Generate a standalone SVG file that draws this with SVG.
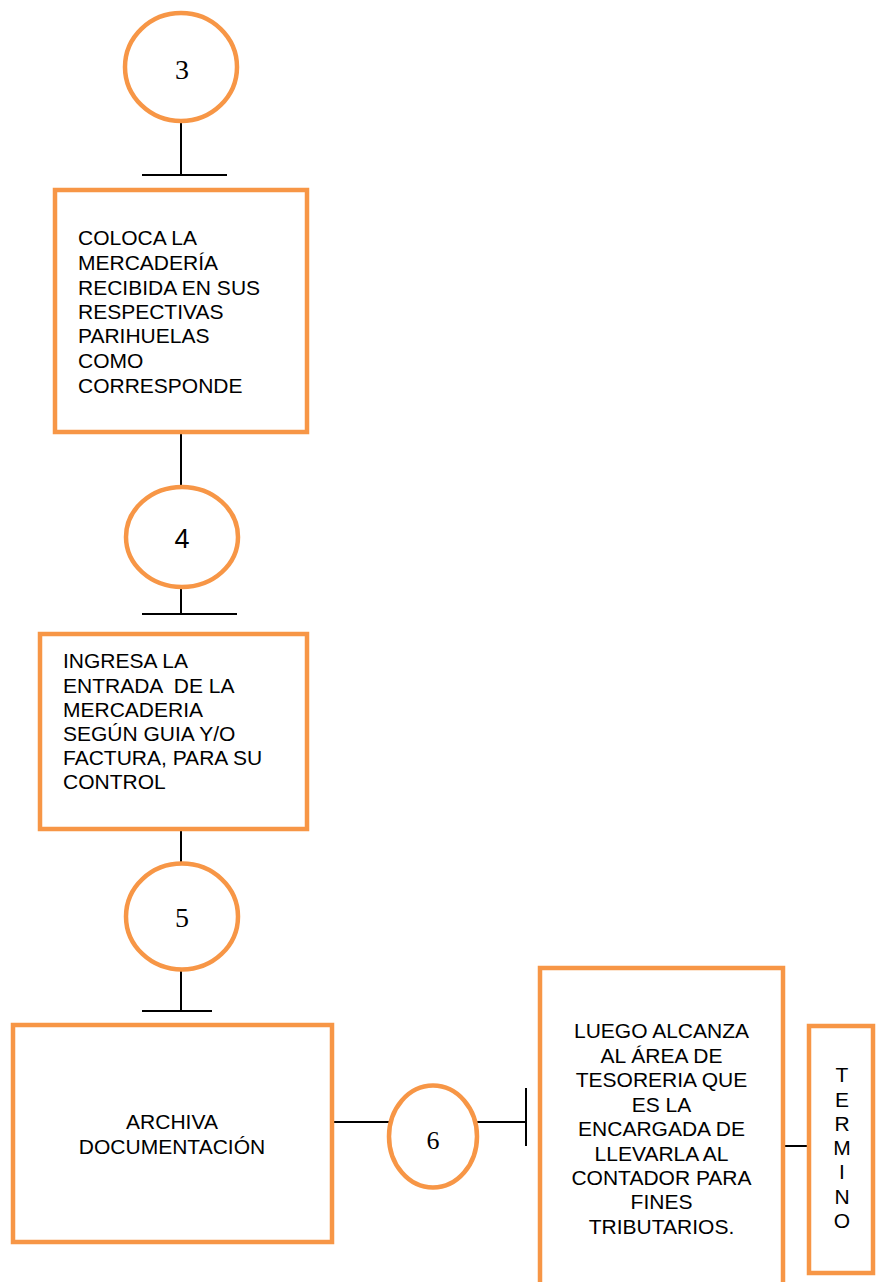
<svg xmlns="http://www.w3.org/2000/svg" width="876" height="1282" viewBox="0 0 876 1282">
<style>
.box{fill:#fff;stroke:#F79646;stroke-width:4.5}
.circ{fill:#fff;stroke:#F79646;stroke-width:4.5}
.ln{stroke:#000;stroke-width:2;fill:none}
.t{font-family:"Liberation Sans",Arial,sans-serif;font-size:21px;fill:#000}
.c{text-anchor:middle}
.num{font-family:"Liberation Serif","Times New Roman",serif;font-size:28px;fill:#000;text-anchor:middle}
</style>
<rect width="876" height="1282" fill="#fff"/>
<g id="connectors">
<line class="ln" x1="181" y1="122" x2="181" y2="175"/>
<line class="ln" x1="142" y1="175" x2="227" y2="175"/>
<line class="ln" x1="181" y1="432" x2="181" y2="487"/>
<line class="ln" x1="181" y1="587" x2="181" y2="614"/>
<line class="ln" x1="142" y1="614" x2="237" y2="614"/>
<line class="ln" x1="181" y1="829" x2="181" y2="863"/>
<line class="ln" x1="181" y1="970" x2="181" y2="1011"/>
<line class="ln" x1="142" y1="1011" x2="212" y2="1011"/>
<line class="ln" x1="332" y1="1122" x2="389" y2="1122"/>
<line class="ln" x1="477" y1="1122" x2="526" y2="1122"/>
<line class="ln" x1="526" y1="1088" x2="526" y2="1146"/>
<line class="ln" x1="783" y1="1146" x2="809" y2="1146"/>
</g>
<g id="n3">
<ellipse class="circ" cx="181" cy="67" rx="56" ry="54"/>
<text class="num" x="182" y="79">3</text>
</g>
<g id="box1">
<rect class="box" x="55" y="190" width="252" height="242"/>
<text class="t" x="78" y="245">COLOCA LA</text>
<text class="t" x="78" y="270">MERCADERÍA</text>
<text class="t" x="78" y="295">RECIBIDA EN SUS</text>
<text class="t" x="78" y="319">RESPECTIVAS</text>
<text class="t" x="78" y="343">PARIHUELAS</text>
<text class="t" x="78" y="368">COMO</text>
<text class="t" x="78" y="393">CORRESPONDE</text>
</g>
<g id="n4">
<ellipse class="circ" cx="182" cy="537" rx="56" ry="50"/>
<text class="t c" style="font-size:27px" x="182" y="548">4</text>
</g>
<g id="box2">
<rect class="box" x="40" y="634" width="267" height="195"/>
<text class="t" x="63" y="668">INGRESA LA</text>
<text class="t" x="63" y="693" xml:space="preserve">ENTRADA  DE LA</text>
<text class="t" x="63" y="717">MERCADERIA</text>
<text class="t" x="63" y="741">SEGÚN GUIA Y/O</text>
<text class="t" x="63" y="765">FACTURA, PARA SU</text>
<text class="t" x="63" y="789">CONTROL</text>
</g>
<g id="n5">
<ellipse class="circ" cx="182" cy="916.5" rx="56" ry="53"/>
<text class="num" x="182" y="927">5</text>
</g>
<g id="box3">
<rect class="box" x="13" y="1025" width="319" height="217"/>
<text class="t c" x="172" y="1129">ARCHIVA</text>
<text class="t c" x="172" y="1154">DOCUMENTACIÓN</text>
</g>
<g id="n6">
<ellipse class="circ" cx="433" cy="1136.5" rx="44" ry="51"/>
<text class="num" style="font-size:26px" x="433" y="1149">6</text>
</g>
<g id="box4">
<rect class="box" x="540" y="968" width="243" height="340"/>
<text class="t c" x="661.5" y="1038">LUEGO ALCANZA</text>
<text class="t c" x="661.5" y="1063">AL ÁREA DE</text>
<text class="t c" x="661.5" y="1087">TESORERIA QUE</text>
<text class="t c" x="661.5" y="1112">ES LA</text>
<text class="t c" x="661.5" y="1136">ENCARGADA DE</text>
<text class="t c" x="661.5" y="1161">LLEVARLA AL</text>
<text class="t c" x="661.5" y="1185">CONTADOR PARA</text>
<text class="t c" x="661.5" y="1209">FINES</text>
<text class="t c" x="661.5" y="1234">TRIBUTARIOS.</text>
</g>
<g id="termino">
<rect class="box" x="809" y="1026" width="64" height="247"/>
<text class="t c" x="842" y="1082">T</text>
<text class="t c" x="842" y="1107">E</text>
<text class="t c" x="842" y="1131">R</text>
<text class="t c" x="842" y="1155">M</text>
<text class="t c" x="842" y="1179">I</text>
<text class="t c" x="842" y="1204">N</text>
<text class="t c" x="842" y="1228">O</text>
</g>
</svg>
